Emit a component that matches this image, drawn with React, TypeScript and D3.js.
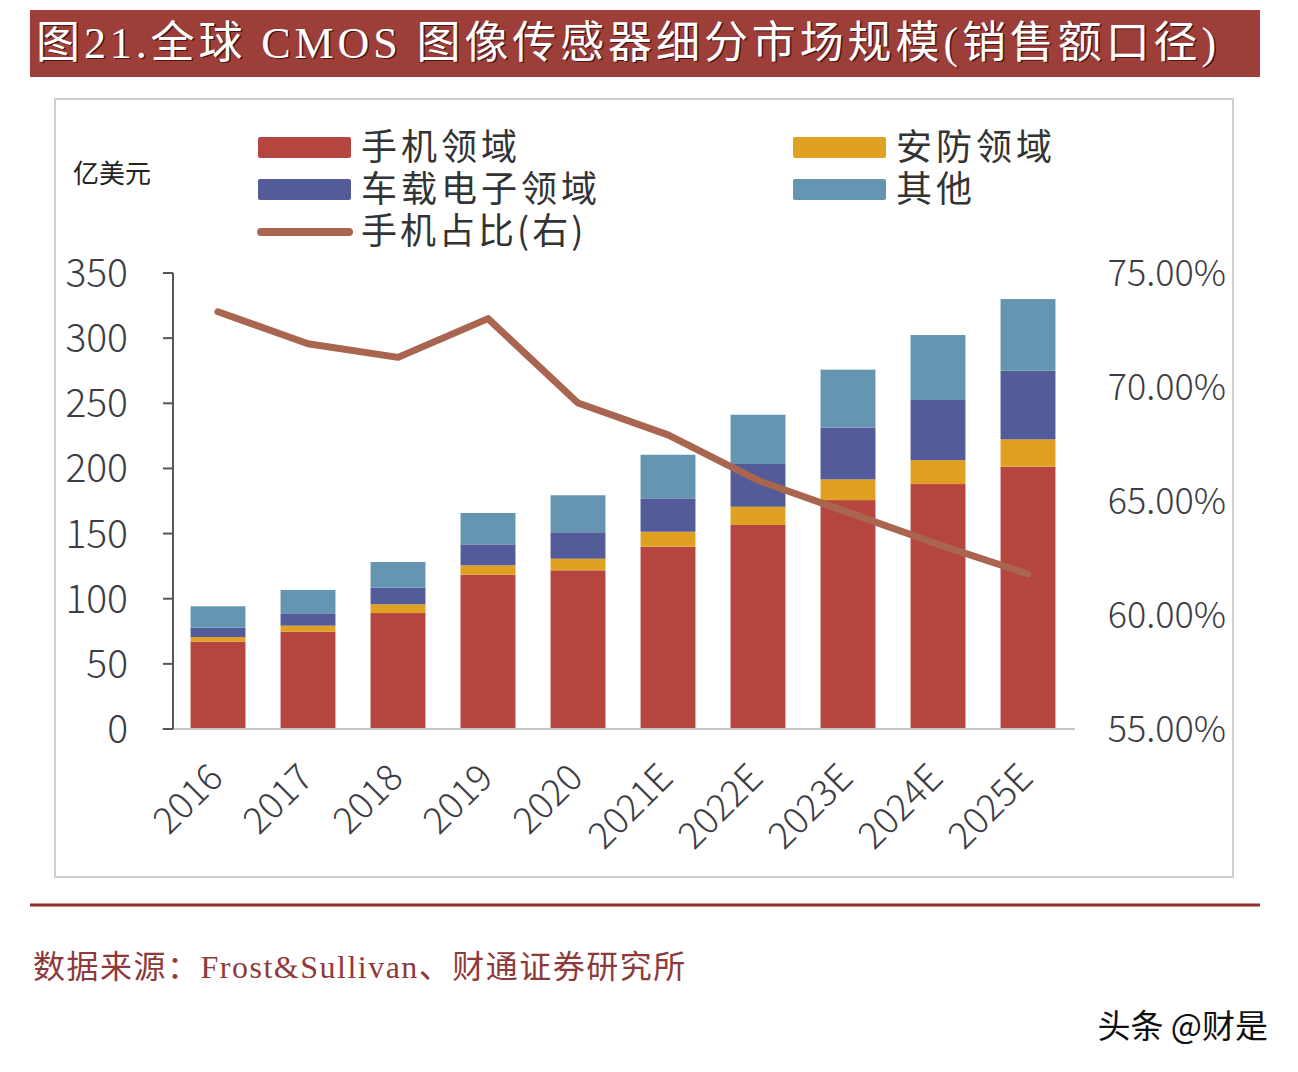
import React from "react";
import * as d3 from "d3";

// chart data
const years = ["2016", "2017", "2018", "2019", "2020", "2021E", "2022E", "2023E", "2024E", "2025E"];
const phone = [67.0, 74.7, 89.0, 118.4, 121.8, 139.9, 156.6, 175.7, 188.0, 201.3];
const security = [3.6, 4.6, 6.7, 7.2, 8.9, 11.5, 14.0, 15.9, 18.4, 21.0];
const auto = [7.1, 9.5, 12.7, 16.1, 20.3, 25.6, 32.8, 39.8, 46.1, 52.7];
const other = [16.5, 17.9, 19.8, 24.1, 28.4, 33.5, 37.8, 44.4, 49.9, 55.0];
const phoneShare = [73.3, 71.9, 71.3, 73.0, 69.3, 67.9, 65.9, 64.5, 63.1, 61.8];

const leftTicks = [0, 50, 100, 150, 200, 250, 300, 350];
const rightTicks = [55, 60, 65, 70, 75];

const seriesKeys = ["phone", "security", "auto", "other"];
const seriesNames: Record<string, string> = {
    phone: "手机领域",
    security: "安防领域",
    auto: "车载电子领域",
    other: "其他",
};
const colors: Record<string, string> = {
    phone: "#b4463f",
    security: "#e0a022",
    auto: "#535b98",
    other: "#6595b0",
};
const lineColor = "#a9654f";

const W = 1298;
const H = 1072;
const sans = "'Noto Sans CJK SC', 'Liberation Sans', sans-serif";
const serif = "'Liberation Serif', 'Noto Sans CJK SC', serif";

export default function App() {
    const rows = years.map((y, i) => ({
        year: y,
        phone: phone[i],
        security: security[i],
        auto: auto[i],
        other: other[i],
    }));

    const x = d3.scaleBand<string>()
        .domain(years)
        .range([173, 1073])
        .paddingInner(0.39)
        .paddingOuter(0.195);
    const y = d3.scaleLinear().domain([0, 350]).range([729, 273]);
    const y2 = d3.scaleLinear().domain([55, 75]).range([729, 273]);

    const stacked = d3.stack<any>().keys(seriesKeys)(rows);

    const line = d3.line<number>()
        .x((_, i) => (x(years[i]) as number) + x.bandwidth() / 2)
        .y(d => y2(d));

    const title = "图21.全球 CMOS 图像传感器细分市场规模(销售额口径)";

    return (
        <svg width={W} height={H} style={{ position: "absolute", left: 0, top: 0, background: "#fff" }}>
            {/* title bar */}
            <rect x={30} y={10} width={1230} height={67} fill="#9d3e39" />
            <text x={37.5} y={59} fontFamily={serif} fontSize={44} fill="#4a1412" letterSpacing={3.9}>{title}</text>
            <text x={36} y={57.5} fontFamily={serif} fontSize={44} fill="#fff" letterSpacing={3.9}>{title}</text>

            {/* chart frame */}
            <rect x={55} y={99} width={1178} height={778} fill="#fff" stroke="#cfd0d4" strokeWidth={2} />

            {/* unit label */}
            <text x={73} y={183} fontFamily={sans} fontSize={26} fill="#222">亿美元</text>

            {/* legend */}
            {[
                { key: "phone", lx: 258, ly: 137 },
                { key: "auto", lx: 258, ly: 179 },
                { key: "security", lx: 793, ly: 137 },
                { key: "other", lx: 793, ly: 179 },
            ].map(l => (
                <g key={l.key}>
                    <rect x={l.lx} y={l.ly} width={93} height={21} rx={2} fill={colors[l.key]} />
                    <text x={l.lx + 103} y={l.ly + 23} fontFamily={sans} fontSize={36} letterSpacing={4} fill="#333">{seriesNames[l.key]}</text>
                </g>
            ))}
            <line x1={261} x2={349} y1={232} y2={232} stroke={lineColor} strokeWidth={8} strokeLinecap="round" />
            <text x={361} y={244} fontFamily={sans} fontSize={36} letterSpacing={3} fill="#333">手机占比(右)</text>

            {/* bars */}
            {stacked.map(s => (
                <g key={s.key} fill={colors[s.key]}>
                    {s.map((d, i) => (
                        <rect
                            key={i}
                            x={x(years[i])}
                            width={x.bandwidth()}
                            y={y(d[1])}
                            height={y(d[0]) - y(d[1])}
                        />
                    ))}
                </g>
            ))}

            {/* axes */}
            <line x1={162} x2={1075} y1={y(0)} y2={y(0)} stroke="#c3c5c9" strokeWidth={2} />
            <line x1={173} x2={173} y1={y(350)} y2={y(0)} stroke="#55575e" strokeWidth={2} />
            {leftTicks.map(t => (
                <g key={t}>
                    <line x1={163} x2={173} y1={y(t)} y2={y(t)} stroke="#55575e" strokeWidth={2} />
                    <text x={128} y={y(t)} dy="0.36em" textAnchor="end" fontFamily={sans} fontWeight={300} fontSize={39} fill="#3c3d44">{t}</text>
                </g>
            ))}
            {rightTicks.map(t => (
                <text key={t} x={1226} y={y2(t)} dy="0.36em" textAnchor="end" fontFamily={sans} fontWeight={300} fontSize={36} fill="#3c3d44">{t.toFixed(2)}%</text>
            ))}
            {years.map(yr => {
                const cx = (x(yr) as number) + x.bandwidth() / 2;
                return (
                    <text key={yr} transform={`translate(${cx + 7},${780}) rotate(-45)`} textAnchor="end" fontFamily={sans} fontWeight={300} fontSize={37} fill="#3c3d44">{yr}</text>
                );
            })}

            {/* share line */}
            <path d={line(phoneShare) as string} fill="none" stroke={lineColor} strokeWidth={7} strokeLinejoin="round" strokeLinecap="round" />

            {/* footer */}
            <line x1={30} x2={1260} y1={905} y2={905} stroke="#8f2f2c" strokeWidth={3} />
            <text x={33} y={978} fontFamily={serif} fontSize={32} letterSpacing={1.5} fill="#8e3a3a">数据来源：Frost&amp;Sullivan、财通证券研究所</text>
            <text x={1268} y={1038} textAnchor="end" fontFamily={sans} fontSize={33} fill="#111">头条 @财是</text>
        </svg>
    );
}
